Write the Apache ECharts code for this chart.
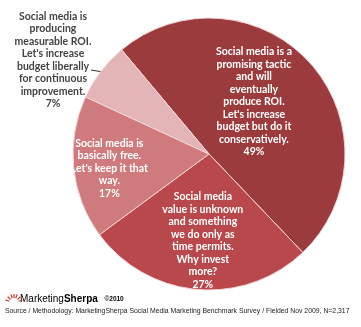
<!DOCTYPE html>
<html><head><meta charset="utf-8">
<script src="https://cdn.jsdelivr.net/npm/echarts@6/dist/echarts.min.js"></script>
<style>html,body{margin:0;padding:0;background:#fff}#c{width:361px;height:327px}</style>
</head><body><div id="c"></div>
<script>
const categories = [
  "Social media is a\npromising tactic\nand will\neventually\nproduce ROI.\nLet's increase\nbudget but do it\nconservatively.",
  "Social media\nvalue is unknown\nand something\nwe do only as\ntime permits.\nWhy invest\nmore?",
  "Social media is\nbasically free.\nLet's keep it that\nway.",
  "Social media is\nproducing\nmeasurable ROI.\nLet's increase\nbudget liberally\nfor continuous\nimprovement."
];
const values = [49, 27, 17, 7];
const colors = ['#9c3b3e', '#b8484b', '#cf7b7d', '#e4b5b7'];
const footerTitle = ['Marketing', 'Sherpa', '©2010'];
const sourceText = 'Source / Methodology: MarketingSherpa Social Media Marketing Benchmark Survey / Fielded Nov 2009, N=2,317';

const chart = echarts.init(document.getElementById('c'));
const FONT = 'Lato';
const offsets = [[-8,-5],[0,16],[-29,7],null];

// small sunburst logo rays
const rays = [];
const cx = 14, cy = 303;
[-160,-135,-110,-90,-70,-45,-20].forEach(a => {
  const r = a * Math.PI / 180;
  rays.push({type:'line', shape:{x1: cx + Math.cos(r)*5, y1: cy + Math.sin(r)*5, x2: cx + Math.cos(r)*9, y2: cy + Math.sin(r)*9},
    style:{stroke:'#c0392b', lineWidth:1.2}});
});

chart.setOption({
  animation: false,
  graphic: [
    {type:'text', left: 5, top: 308, style:{text: sourceText, font: '6.85px "Liberation Sans"', fill:'#222'}},
    {type:'text', left: 20, top: 293, style:{
      text: '{a|' + footerTitle[0] + '}{b|' + footerTitle[1] + '}  {c|' + footerTitle[2] + '}',
      rich: {
        a:{fontFamily:'"Liberation Sans"', fontSize:10, color:'#777'},
        b:{fontFamily:'"Liberation Sans"', fontSize:10, fontWeight:'bold', color:'#333'},
        c:{fontFamily:'"Liberation Sans"', fontSize:6.5, fontWeight:'bold', color:'#333'}
      }}},
    {type:'line', shape:{x1: 91, y1: 70, x2: 103, y2: 72}, style:{stroke:'#333', lineWidth:1}},
    {type:'group', children: rays}
  ],
  series: [{
    type: 'pie',
    center: [209, 154],
    radius: [0, 136],
    startAngle: 130,
    clockwise: true,
    avoidLabelOverlap: false,
    itemStyle: {borderColor: '#f2d4d4', borderWidth: 1},
    label: {
      position: 'inside',
      formatter: p => p.name + '\n' + p.value + '%',
      color: '#fff',
      fontFamily: FONT,
      fontWeight: 'bold',
      fontSize: 10.5,
      lineHeight: 12.5,
      align: 'center'
    },
    labelLine: {show: false},
    labelLayout: function (params) {
      const o = offsets[params.dataIndex];
      if (o) return {dx: o[0], dy: o[1]};
      return {x: 53, y: 60, align: 'center', verticalAlign: 'middle'};
    },
    data: values.map((v, i) => ({
      value: v, name: categories[i], itemStyle: {color: colors[i]},
      label: i === 3 ? {position: 'outside', color: '#444', fontWeight: 'bold', lineHeight: 12.5} : undefined
    }))
  }]
});
</script></body></html>
